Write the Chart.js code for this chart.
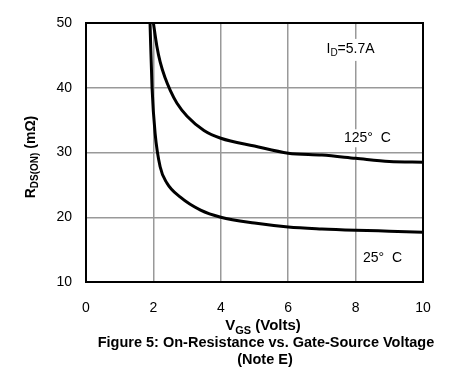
<!DOCTYPE html>
<html>
<head>
<meta charset="utf-8">
<script src="https://cdn.jsdelivr.net/npm/chart.js@4/dist/chart.umd.min.js"></script>
<style>
  html, body { margin: 0; padding: 0; background: #fff; }
  #wrap { width: 450px; height: 386px; position: relative; }
</style>
</head>
<body>
<div id="wrap"><canvas id="rdsChart" width="450" height="386"></canvas></div>
<script>
// curves
const vgs25 = [1.9, 1.96, 2.05, 2.2, 2.4, 2.8, 3.4, 4.0, 5.0, 6.0, 7.0, 8.0, 9.0, 10.0]
const rds25 = [50, 40, 33, 27.8, 25.3, 23.1, 21.1, 20.0, 19.1, 18.5, 18.2, 18.0, 17.85, 17.7]
const vgs125 = [2.0, 2.1, 2.2, 2.35, 2.5, 2.7, 3.0, 3.5, 4.0, 5.0, 6.0, 7.0, 8.0, 9.0, 10.0]
const rds125 = [50, 46.5, 44.0, 41.5, 39.6, 37.6, 35.6, 33.4, 32.2, 31.0, 29.9, 29.6, 29.1, 28.6, 28.5]

const xTicks = [0, 2, 4, 6, 8, 10]
const yTicks = [10, 20, 30, 40, 50]

// text labels inside the plot: [text, x value, y value]
const notes = [
  ['125°  C', 8.35, 32.2],
  ['25°  C', 8.8, 13.7],
]
const idLabel = { x: 7.85, y: 46, main: 'I', sub: 'D', rest: '=5.7A' }

const FONT = '"Liberation Sans", Arial, sans-serif'

const toPoints = (xs, ys) => xs.map((x, i) => ({ x, y: ys[i] }))

// draw text with a subscript, centred at cx
function subText(ctx, parts, cx, cy, size, bold) {
  const w = bold ? 'bold ' : ''
  const subSize = Math.round(size * 0.72)
  let total = 0
  parts.forEach(p => {
    ctx.font = w + (p.sub ? subSize : size) + 'px ' + FONT
    total += ctx.measureText(p.t).width
  })
  let x = cx - total / 2
  ctx.textAlign = 'left'
  ctx.textBaseline = 'middle'
  parts.forEach(p => {
    ctx.font = w + (p.sub ? subSize : size) + 'px ' + FONT
    ctx.fillText(p.t, x, p.sub ? cy + size * 0.3 : cy)
    x += ctx.measureText(p.t).width
  })
  return total
}

const decorations = {
  id: 'decorations',
  afterDatasetsDraw(chart) {
    const { ctx, chartArea: a, scales } = chart
    ctx.save()
    ctx.fillStyle = '#000'

    // labels with white boxes over the grid
    ctx.font = '14px ' + FONT
    notes.forEach(([t, xv, yv]) => {
      const px = scales.x.getPixelForValue(xv)
      const py = scales.y.getPixelForValue(yv)
      const w = ctx.measureText(t).width
      ctx.fillStyle = '#fff'
      ctx.fillRect(px - w / 2 - 3, py - 9, w + 6, 18)
      ctx.fillStyle = '#000'
      ctx.textAlign = 'center'
      ctx.textBaseline = 'middle'
      ctx.fillText(t, px, py)
    })
    {
      const px = scales.x.getPixelForValue(idLabel.x)
      const py = scales.y.getPixelForValue(idLabel.y)
      ctx.fillStyle = '#fff'
      ctx.fillRect(px - 26, py - 10, 52, 22)
      ctx.fillStyle = '#000'
      subText(ctx, [{ t: idLabel.main }, { t: idLabel.sub, sub: true }, { t: idLabel.rest }], px, py, 14, false)
    }

    // frame
    ctx.strokeStyle = '#000'
    ctx.lineWidth = 2
    ctx.strokeRect(a.left, a.top, a.right - a.left, a.bottom - a.top)

    // axis titles and caption
    ctx.fillStyle = '#000'
    subText(ctx, [{ t: 'V' }, { t: 'GS', sub: true }, { t: ' (Volts)' }], 263, 326, 15, true)
    ctx.font = 'bold 14.5px ' + FONT
    ctx.textAlign = 'center'
    ctx.textBaseline = 'middle'
    ctx.fillText('Figure 5: On-Resistance vs. Gate-Source Voltage', 266, 343)
    ctx.fillText('(Note E)', 265, 360)

    ctx.translate(31, 157)
    ctx.rotate(-Math.PI / 2)
    subText(ctx, [{ t: 'R' }, { t: 'DS(ON)', sub: true }, { t: ' (m\u03a9)' }], 0, 0, 14, true)
    ctx.restore()
  }
}

new Chart(document.getElementById('rdsChart'), {
  type: 'line',
  data: {
    datasets: [
      {
        label: '125 C',
        data: toPoints(vgs125, rds125),
        borderColor: '#000',
        borderWidth: 3,
        pointRadius: 0,
        cubicInterpolationMode: 'monotone',
        fill: false,
      },
      {
        label: '25 C',
        data: toPoints(vgs25, rds25),
        borderColor: '#000',
        borderWidth: 3,
        pointRadius: 0,
        cubicInterpolationMode: 'monotone',
        fill: false,
      },
    ],
  },
  options: {
    responsive: false,
    animation: false,
    layout: { padding: { left: 0, right: 27, top: 23, bottom: 0 } },
    plugins: { legend: { display: false }, tooltip: { enabled: false } },
    scales: {
      x: {
        type: 'linear',
        min: 0,
        max: 10,
        afterFit: s => { s.height = 104 },
        afterBuildTicks: s => { s.ticks = xTicks.map(v => ({ value: v })) },
        grid: { color: '#999', lineWidth: 1.5, drawTicks: false },
        border: { display: false },
        ticks: { color: '#000', font: { family: FONT, size: 14 }, padding: 18, maxRotation: 0 },
      },
      y: {
        min: 10,
        max: 50,
        afterFit: s => { s.width = 86 },
        afterBuildTicks: s => { s.ticks = yTicks.map(v => ({ value: v })) },
        grid: { color: '#999', lineWidth: 1.5, drawTicks: false },
        border: { display: false },
        ticks: { color: '#000', font: { family: FONT, size: 14 }, padding: 14 },
      },
    },
  },
  plugins: [decorations],
})
</script>
</body>
</html>
